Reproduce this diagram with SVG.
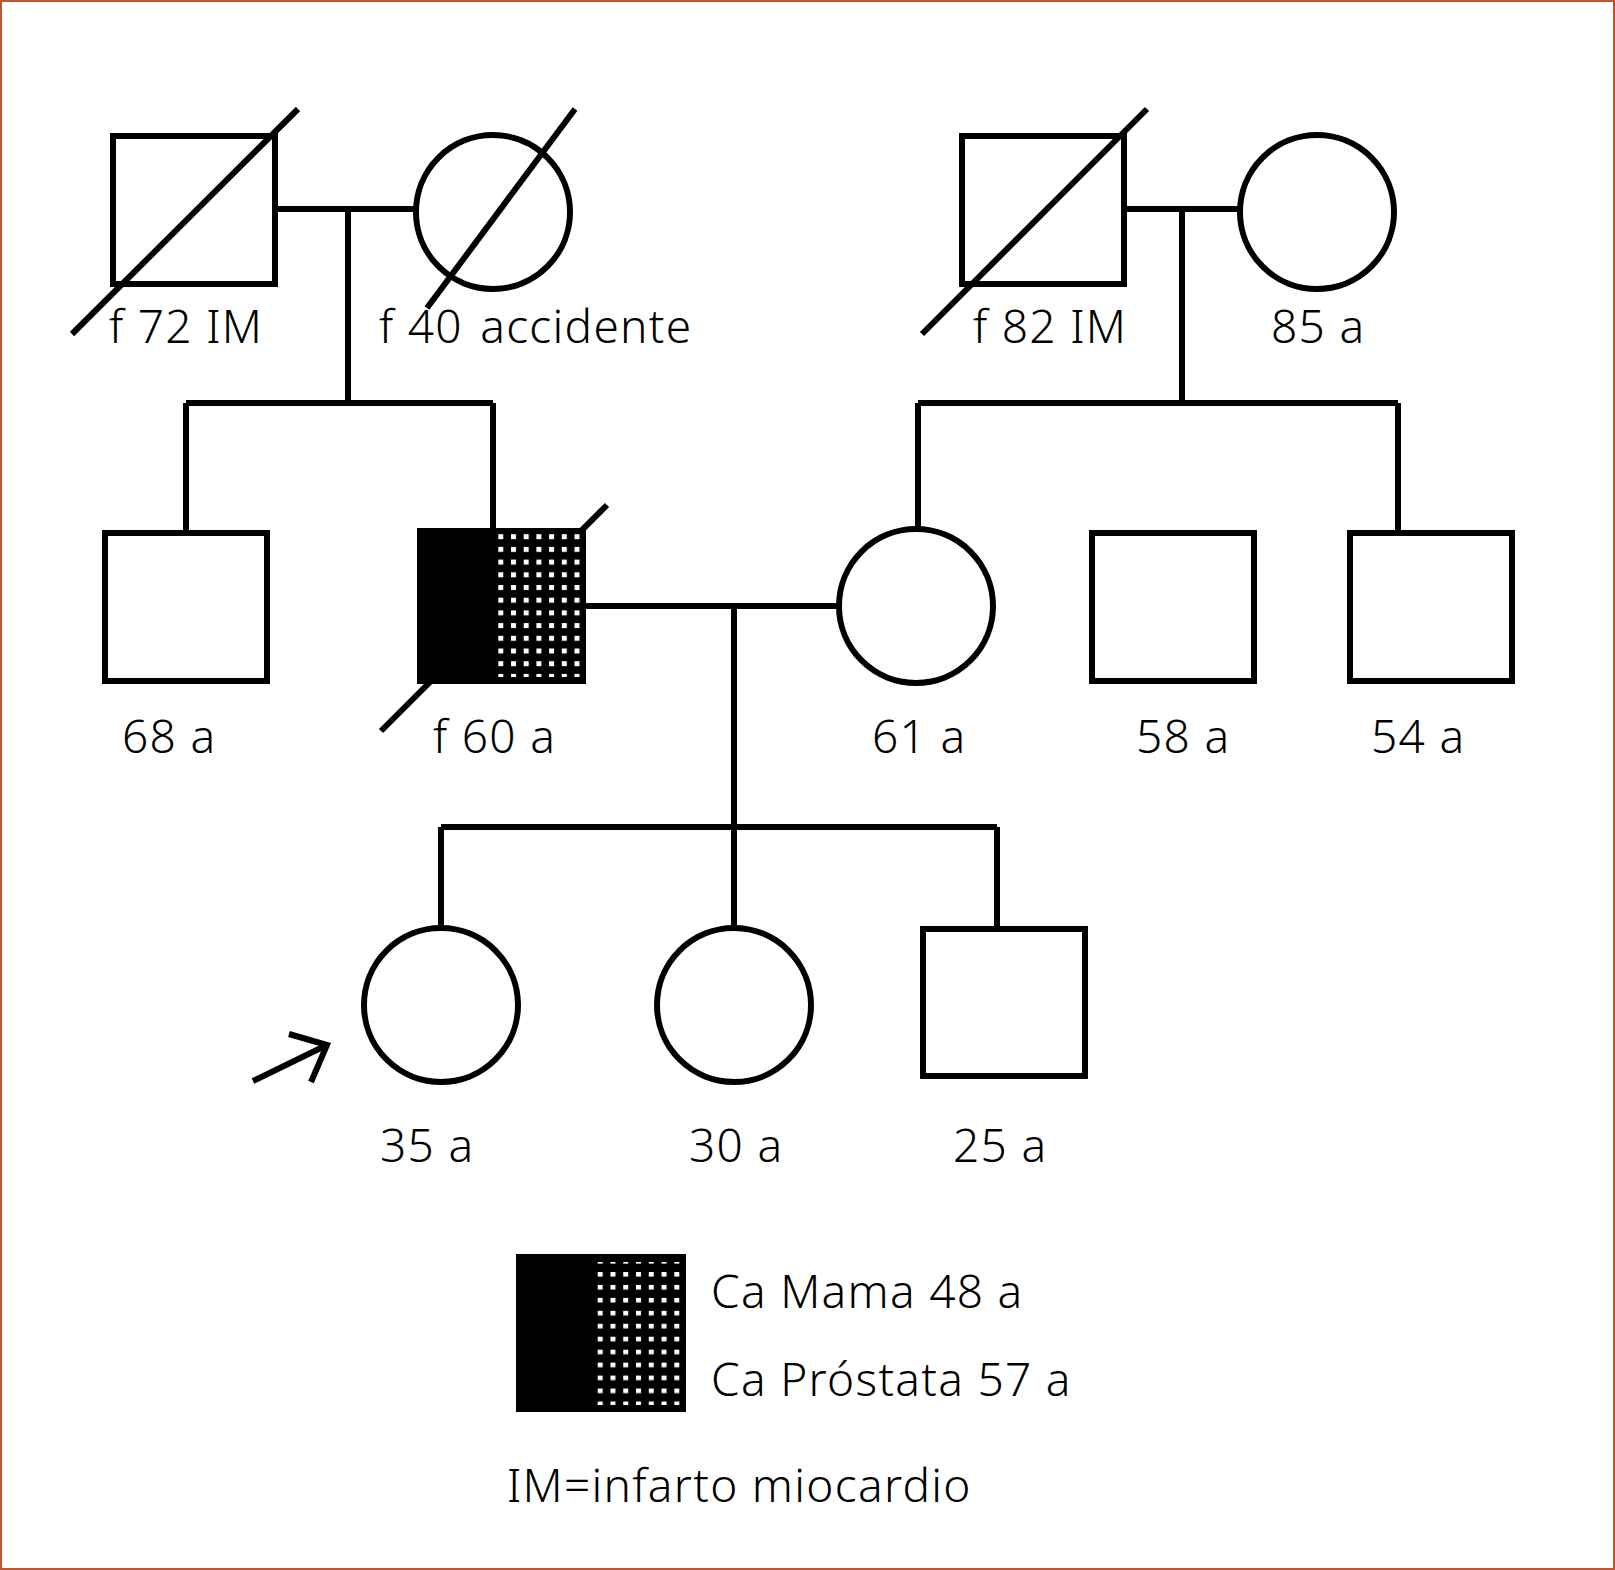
<svg xmlns="http://www.w3.org/2000/svg" width="1615" height="1570" viewBox="0 0 1615 1570">
<style>
.s{fill:none;stroke:#000;stroke-width:6}
.n{fill:#fff;stroke:#000;stroke-width:6}
.t{font-family:"Noto Sans","Open Sans",sans-serif;font-size:46px;font-weight:300;letter-spacing:1.3px;fill:#000}
</style>
<defs>
<pattern id="dots1" patternUnits="userSpaceOnUse" x="498.3" y="534.2" width="12.7" height="12.7">
<rect x="0" y="0" width="5" height="5" fill="#fff"/>
</pattern>
<pattern id="dots2" patternUnits="userSpaceOnUse" x="597.7" y="1272" width="12.77" height="12.95">
<rect x="0" y="0" width="5" height="4.6" fill="#fff"/>
</pattern>
</defs>
<rect x="1" y="1" width="1613" height="1568" fill="#fff" stroke="#c4532c" stroke-width="2"/>

<g id="connectors" class="s">
<path d="M278 209H416M348 209V403M186 403H493M186 403V533M493 403V531"/>
<path d="M1125 209H1240M1182 209V403M918 403H1398M918 403V529M1398 403V533"/>
<path d="M586 606H839M734 606V827M441 827H997M441 827V928M734 827V928M997 827V929"/>
</g>

<g id="gf-paternal">
<rect class="n" x="113" y="136" width="162" height="148"/>
<line class="s" x1="72" y1="334" x2="298" y2="109"/>
<text class="t" x="109" y="343">f 72 IM</text>
</g>
<g id="gm-paternal">
<circle class="n" cx="493" cy="212" r="77"/>
<line class="s" x1="427" y1="308" x2="575" y2="109"/>
<text class="t" x="379" y="343">f 40 <tspan dx="4">accidente</tspan></text>
</g>
<g id="gf-maternal">
<rect class="n" x="962" y="136" width="162" height="148"/>
<line class="s" x1="922" y1="334" x2="1147" y2="109"/>
<text class="t" x="973" y="343">f 82 IM</text>
</g>
<g id="gm-maternal">
<circle class="n" cx="1317" cy="212" r="77"/>
<text class="t" x="1271" y="343">85 a</text>
</g>

<g id="uncle-68">
<rect class="n" x="105" y="533" width="162" height="148"/>
<text class="t" x="122" y="753">68 a</text>
</g>
<g id="father-60">
<line class="s" x1="381" y1="731" x2="607" y2="505"/>
<rect x="417" y="528" width="169" height="156" fill="#000"/>
<rect x="497" y="533" width="84" height="144" fill="url(#dots1)"/>
<text class="t" x="433" y="753">f 60 a</text>
</g>
<g id="mother-61">
<circle class="n" cx="916" cy="606" r="77"/>
<text class="t" x="872" y="753">61 a</text>
</g>
<g id="uncle-58">
<rect class="n" x="1092" y="533" width="162" height="148"/>
<text class="t" x="1136" y="753">58 a</text>
</g>
<g id="uncle-54">
<rect class="n" x="1350" y="533" width="162" height="148"/>
<text class="t" x="1371" y="753">54 a</text>
</g>

<g id="proband-35">
<circle class="n" cx="441" cy="1005" r="77"/>
<path class="s" d="M253 1081L327 1045M289 1034L327 1045L311 1082"/>
<text class="t" x="380" y="1162">35 a</text>
</g>
<g id="sister-30">
<circle class="n" cx="734" cy="1005" r="77"/>
<text class="t" x="689" y="1162">30 a</text>
</g>
<g id="brother-25">
<rect class="n" x="923" y="929" width="162" height="147"/>
<text class="t" x="953" y="1162">25 a</text>
</g>

<g id="legend">
<rect x="516" y="1254" width="170" height="158" fill="#000"/>
<rect x="597" y="1262" width="84" height="143" fill="url(#dots2)"/>
<text class="t" x="711" y="1308">Ca Mama 48 a</text>
<text class="t" x="711" y="1396">Ca Próstata 57 a</text>
<text class="t" x="507" y="1502">IM=infarto miocardio</text>
</g>
</svg>
